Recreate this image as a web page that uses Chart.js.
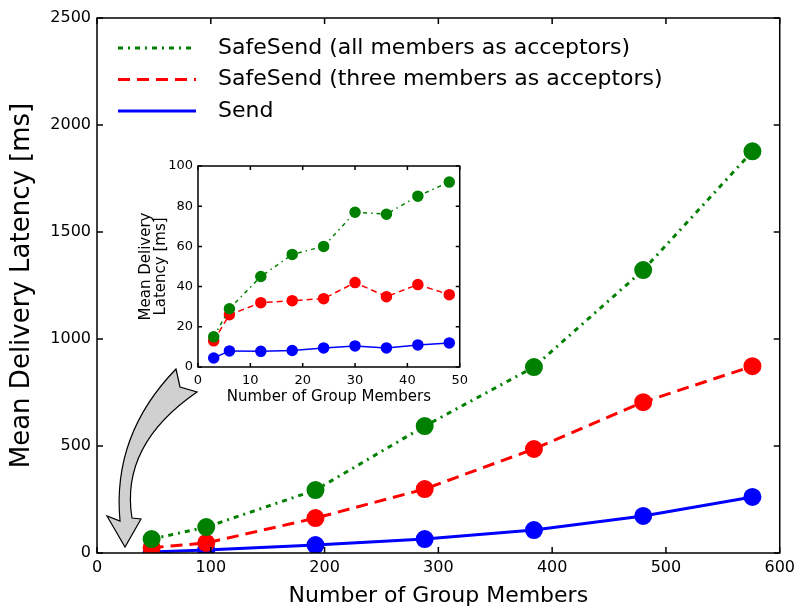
<!DOCTYPE html>
<html>
<head>
<meta charset="utf-8">
<script src="https://cdn.jsdelivr.net/npm/chart.js@4.4.1/dist/chart.umd.min.js"></script>
<style>
  body { margin: 0; background: #fff; }
  #wrap { position: relative; width: 800px; height: 610px; }
  #main { position: absolute; left: 0; top: 0; }
  #inset { position: absolute; left: 130px; top: 150px; }
</style>
</head>
<body>
<div id="wrap">
  <canvas id="main" width="800" height="610"></canvas>
  <canvas id="inset" width="344" height="262"></canvas>
</div>
<script>
// main plot
const members = [48, 96, 192, 288, 384, 480, 576];
const safeAll = [65, 121, 294, 593, 869, 1322, 1877];
const safeThree = [25, 47, 163, 299, 486, 705, 873];
const sendMain = [5, 14, 37, 65, 107, 173, 262];

// inset plot
const insetMembers = [3, 6, 12, 18, 24, 30, 36, 42, 48];
const insetAll = [15, 29, 45, 56, 60, 77, 76, 85, 92];
const insetThree = [13, 26, 32, 33, 34, 42, 35, 41, 36];
const insetSend = [4.5, 8, 7.8, 8.2, 9.5, 10.5, 9.5, 11, 12];

const labels = [
  "SafeSend (all members as acceptors)",
  "SafeSend (three members as acceptors)",
  "Send",
];

const GREEN = "#008000";
const RED = "#ff0000";
const BLUE = "#0000ff";
const FONT = "'DejaVu Sans', sans-serif";

function pts(xs, ys) {
  return xs.map((x, i) => ({ x: x, y: ys[i] }));
}

// plain numbers, no thousands separator
const plain = (v) => String(v);

// box around the plot and inward ticks on all sides
const frameTicks = {
  id: "frameTicks",
  afterDraw(chart, args, opts) {
    const { ctx, chartArea: a, scales } = chart;
    const len = opts.len || 6;
    ctx.save();
    ctx.strokeStyle = "#000";
    ctx.lineWidth = opts.width || 1.5;
    ctx.beginPath();
    for (const t of scales.x.ticks) {
      const px = scales.x.getPixelForValue(t.value);
      ctx.moveTo(px, a.bottom); ctx.lineTo(px, a.bottom - len);
      ctx.moveTo(px, a.top); ctx.lineTo(px, a.top + len);
    }
    for (const t of scales.y.ticks) {
      const py = scales.y.getPixelForValue(t.value);
      ctx.moveTo(a.left, py); ctx.lineTo(a.left + len, py);
      ctx.moveTo(a.right, py); ctx.lineTo(a.right - len, py);
    }
    ctx.stroke();
    ctx.strokeRect(a.left, a.top, a.right - a.left, a.bottom - a.top);
    ctx.restore();
  },
};

// legend in the upper left corner, drawn from the datasets
const innerLegend = {
  id: "innerLegend",
  afterDraw(chart) {
    const ctx = chart.ctx;
    ctx.save();
    ctx.font = "22px " + FONT;
    ctx.textBaseline = "middle";
    chart.data.datasets.forEach((ds, i) => {
      const y = 48 + i * 31.5;
      ctx.strokeStyle = ds.borderColor;
      ctx.lineWidth = 3;
      ctx.setLineDash(ds.borderDash || []);
      ctx.beginPath();
      ctx.moveTo(118, y);
      ctx.lineTo(196, y);
      ctx.stroke();
      ctx.setLineDash([]);
      ctx.fillStyle = "#000";
      ctx.fillText(ds.label, 218, y);
    });
    ctx.restore();
  },
};

// grey curved arrow pointing from the inset to the origin
const arrow = {
  id: "arrow",
  afterDraw(chart) {
    const ctx = chart.ctx;
    ctx.save();
    ctx.beginPath();
    ctx.moveTo(176, 369);
    ctx.quadraticCurveTo(112, 435, 120, 521);
    ctx.lineTo(107, 516);
    ctx.lineTo(125, 547);
    ctx.lineTo(141, 519);
    ctx.lineTo(132, 518);
    ctx.quadraticCurveTo(120, 445, 197, 392);
    ctx.lineTo(180, 387);
    ctx.closePath();
    ctx.fillStyle = "#d0d0d0";
    ctx.fill();
    ctx.strokeStyle = "#000";
    ctx.lineWidth = 1.2;
    ctx.stroke();
    ctx.restore();
  },
};

new Chart(document.getElementById("main"), {
  type: "line",
  data: {
    datasets: [
      {
        label: labels[0],
        data: pts(members, safeAll),
        borderColor: GREEN,
        backgroundColor: GREEN,
        borderDash: [5, 5, 2, 5],
        borderWidth: 3,
        pointRadius: 7.5,
      },
      {
        label: labels[1],
        data: pts(members, safeThree),
        borderColor: RED,
        backgroundColor: RED,
        borderDash: [12, 7],
        borderWidth: 3,
        pointRadius: 7.5,
      },
      {
        label: labels[2],
        data: pts(members, sendMain),
        borderColor: BLUE,
        backgroundColor: BLUE,
        borderWidth: 3,
        pointRadius: 7.5,
      },
    ],
  },
  options: {
    responsive: false,
    animation: false,
    layout: { padding: { top: 18, right: 11, left: 0, bottom: 0 } },
    elements: { point: { borderWidth: 0, hoverRadius: 7.5 }, line: { tension: 0 } },
    plugins: { legend: { display: false }, tooltip: { enabled: false } },
    scales: {
      x: {
        type: "linear",
        min: 0,
        max: 600,
        grid: { display: false, drawTicks: false },
        border: { display: false },
        ticks: { stepSize: 100, padding: 5, color: "#000", font: { family: FONT, size: 16 }, callback: plain },
        title: {
          display: true,
          text: "Number of Group Members",
          color: "#000",
          font: { family: FONT, size: 22 },
          padding: { top: 0, bottom: 1 },
        },
        afterFit(s) { s.height = 57; },
      },
      y: {
        type: "linear",
        min: 0,
        max: 2500,
        grid: { display: false, drawTicks: false },
        border: { display: false },
        ticks: { stepSize: 500, padding: 6, color: "#000", font: { family: FONT, size: 16 }, callback: plain },
        title: {
          display: true,
          text: "Mean Delivery Latency [ms]",
          color: "#000",
          font: { family: FONT, size: 26 },
          padding: { top: 7, bottom: 0 },
        },
        afterFit(s) { s.width = 97; },
      },
    },
  },
  plugins: [frameTicks, innerLegend, arrow],
});

new Chart(document.getElementById("inset"), {
  type: "line",
  data: {
    datasets: [
      {
        label: labels[0],
        data: pts(insetMembers, insetAll),
        borderColor: GREEN,
        backgroundColor: GREEN,
        borderDash: [4, 4, 1.5, 4],
        borderWidth: 1.5,
        pointRadius: 5,
      },
      {
        label: labels[1],
        data: pts(insetMembers, insetThree),
        borderColor: RED,
        backgroundColor: RED,
        borderDash: [6, 4],
        borderWidth: 1.5,
        pointRadius: 5,
      },
      {
        label: labels[2],
        data: pts(insetMembers, insetSend),
        borderColor: BLUE,
        backgroundColor: BLUE,
        borderWidth: 1.5,
        pointRadius: 5,
      },
    ],
  },
  options: {
    responsive: false,
    animation: false,
    layout: { padding: { top: 16, right: 10, left: 0, bottom: 0 } },
    elements: { point: { borderWidth: 0, hoverRadius: 5 }, line: { tension: 0 } },
    plugins: { legend: { display: false }, tooltip: { enabled: false }, frameTicks: { len: 4, width: 1.5 } },
    scales: {
      x: {
        type: "linear",
        min: 0,
        max: 50,
        grid: { display: false, drawTicks: false },
        border: { display: false },
        ticks: { stepSize: 10, padding: 6, color: "#000", font: { family: FONT, size: 13 }, callback: plain },
        title: {
          display: true,
          text: "Number of Group Members",
          color: "#000",
          font: { family: FONT, size: 15 },
          padding: { top: 0, bottom: 6 },
        },
        afterFit(s) { s.height = 45; },
      },
      y: {
        type: "linear",
        min: 0,
        max: 100,
        grid: { display: false, drawTicks: false },
        border: { display: false },
        ticks: { stepSize: 20, padding: 5, color: "#000", font: { family: FONT, size: 13 }, callback: plain },
        title: {
          display: true,
          text: ["Mean Delivery", "Latency [ms]"],
          color: "#000",
          font: { family: FONT, size: 15, lineHeight: 1.0 },
          padding: { top: 9, bottom: 0 },
        },
        afterFit(s) { s.width = 68; },
      },
    },
  },
  plugins: [frameTicks],
});
</script>
</body>
</html>
